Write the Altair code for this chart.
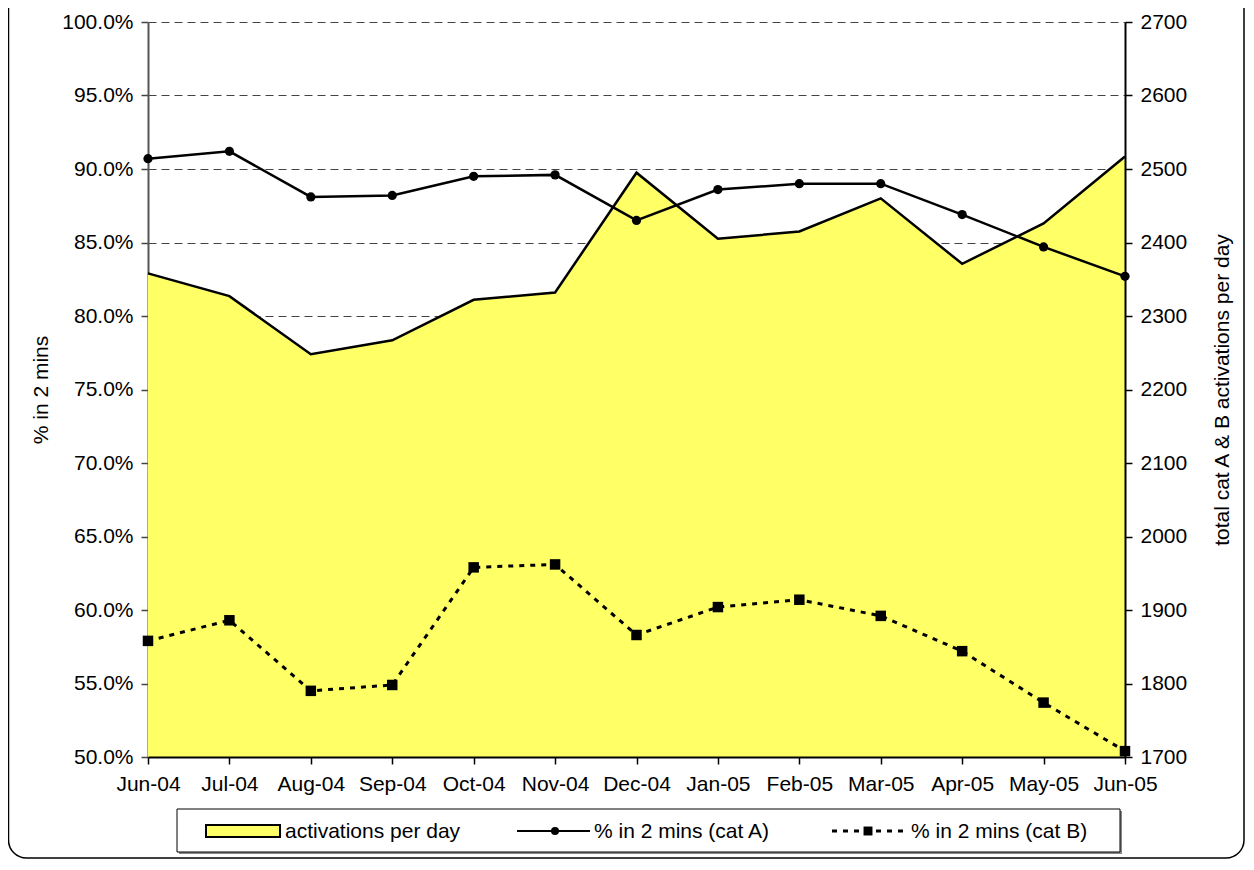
import altair as alt
import pandas as pd

months = ["Jun-04", "Jul-04", "Aug-04", "Sep-04", "Oct-04", "Nov-04", "Dec-04",
          "Jan-05", "Feb-05", "Mar-05", "Apr-05", "May-05", "Jun-05"]
cat_a = [90.7, 91.2, 88.1, 88.2, 89.5, 89.6, 86.5, 88.6, 89.0, 89.0, 86.9, 84.7, 82.7]
cat_b = [57.9, 59.3, 54.5, 54.9, 62.9, 63.1, 58.3, 60.2, 60.7, 59.6, 57.2, 53.7, 50.4]
activations = [2358, 2327, 2248, 2267, 2322, 2332, 2495, 2405, 2415, 2460, 2371, 2426, 2517]

left_ticks = [50, 55, 60, 65, 70, 75, 80, 85, 90, 95, 100]
right_ticks = [1700, 1800, 1900, 2000, 2100, 2200, 2300, 2400, 2500, 2600, 2700]

df = pd.DataFrame({"month": months, "a": cat_a, "b": cat_b, "act": activations})
dummy = pd.DataFrame({"d": [0]})

FONT = "Liberation Sans"
FS = 21
W, H = 977, 735

x_enc = alt.X("month:O", sort=months,
              scale=alt.Scale(type="point", padding=0),
              axis=alt.Axis(title=None, labelAngle=0, labelFontSize=FS, labelColor="black",
                            labelFont=FONT, tickSize=7, tickColor="black", tickWidth=1.5,
                            domainColor="black", domainWidth=2, labelPadding=9, grid=False,
                            zindex=1))

area = alt.Chart(df).mark_area(
    color="#FFFF66", opacity=1,
    line={"color": "black", "strokeWidth": 2.5}
).encode(
    x=x_enc,
    y=alt.Y("act:Q", scale=alt.Scale(domain=[1700, 2700], zero=False, nice=False),
            axis=alt.Axis(orient="right", values=right_ticks, format="d", grid=False,
                          tickSize=7, tickColor="black", tickWidth=1.5,
                          domainColor="black", domainWidth=2,
                          labelFontSize=FS, labelFont=FONT, labelColor="black", labelPadding=8,
                          title="total cat A & B activations per day", titleFontSize=FS,
                          titleFont=FONT, titleFontWeight="normal", titleColor="black",
                          titleAngle=270, titlePadding=46, zindex=1)),
    y2=alt.Y2(datum=1700),
)

left_axis = alt.Axis(orient="left", values=left_ticks,
                     labelExpr="format(datum.value, '.1f') + '%'",
                     grid=True, gridDash=[8, 5], gridColor="#444", gridWidth=1,
                     tickSize=7, tickColor="#444", tickWidth=1.5,
                     domainColor="#555", domainWidth=2,
                     labelFontSize=FS, labelFont=FONT, labelColor="black", labelPadding=8,
                     title="% in 2 mins", titleFontSize=FS, titleFont=FONT,
                     titleFontWeight="normal", titleColor="black", titlePadding=10)
left_scale = alt.Scale(domain=[50, 100], zero=False, nice=False)

line_a = alt.Chart(df).mark_line(
    color="black", strokeWidth=2.5,
    point={"filled": True, "color": "black", "size": 85, "shape": "circle"}
).encode(x=x_enc, y=alt.Y("a:Q", scale=left_scale, axis=left_axis))

line_b = alt.Chart(df).mark_line(
    color="black", strokeWidth=3, strokeDash=[5, 6],
    point={"filled": True, "color": "black", "size": 110, "shape": "square"}
).encode(x=x_enc, y=alt.Y("b:Q", scale=left_scale, axis=left_axis))

lines = alt.layer(line_a, line_b)

# legend box and items (decoration)
LY = 809
legend_shadow = alt.Chart(dummy).mark_rect(fill="#888").encode(
    x=alt.value(31), x2=alt.value(974), y=alt.value(789), y2=alt.value(832))
legend_box = alt.Chart(dummy).mark_rect(fill="white", stroke="black", strokeWidth=1).encode(
    x=alt.value(29), x2=alt.value(972), y=alt.value(787), y2=alt.value(830))
leg_rect = alt.Chart(dummy).mark_rect(fill="#FFFF66", stroke="black", strokeWidth=2).encode(
    x=alt.value(58), x2=alt.value(132), y=alt.value(LY - 6), y2=alt.value(LY + 6))
leg_rule_a = alt.Chart(dummy).mark_rule(color="black", strokeWidth=2).encode(
    x=alt.value(369), x2=alt.value(442), y=alt.value(LY))
leg_pt_a = alt.Chart(dummy).mark_point(filled=True, color="black", size=65, shape="circle",
                                       opacity=1).encode(
    x=alt.value(407), y=alt.value(LY))
leg_rule_b = alt.Chart(dummy).mark_rule(color="black", strokeWidth=3, strokeDash=[5, 6]).encode(
    x=alt.value(684), x2=alt.value(757), y=alt.value(LY))
leg_pt_b = alt.Chart(dummy).mark_point(filled=True, color="black", size=80, shape="square",
                                       opacity=1).encode(
    x=alt.value(720), y=alt.value(LY))


def leg_text(xpos, label):
    return alt.Chart(dummy).mark_text(align="left", baseline="middle", fontSize=FS,
                                      font=FONT, color="black").encode(
        x=alt.value(xpos), y=alt.value(LY + 1), text=alt.value(label))


border = alt.Chart(dummy).mark_rect(fill="transparent", stroke="black", strokeWidth=1.5,
                                    cornerRadius=18).encode(
    x=alt.value(-139.5), x2=alt.value(1096), y=alt.value(-60), y2=alt.value(836))

chart = alt.layer(
    area, lines,
    legend_shadow, legend_box, leg_rect, leg_rule_a, leg_pt_a, leg_rule_b, leg_pt_b,
    leg_text(137, "activations per day"),
    leg_text(446, "% in 2 mins (cat A)"),
    leg_text(763, "% in 2 mins (cat B)"),
    border,
).resolve_scale(y="independent").properties(
    width=W, height=H,
    autosize=alt.AutoSizeParams(type="none"),
    padding={"left": 140, "top": 14, "right": 121, "bottom": 103},
    background="white",
).configure_view(strokeWidth=0)

chart.save("out.html", embed_options={"renderer": "svg", "actions": False})
